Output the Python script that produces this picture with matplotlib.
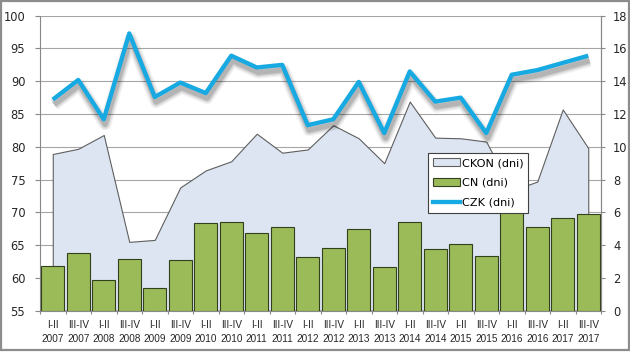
import matplotlib
matplotlib.use("Agg")
import matplotlib.pyplot as plt
import matplotlib.patheffects as pe
from matplotlib.patches import Rectangle, Patch
from matplotlib.lines import Line2D
import numpy as np

periods = ["I-II", "III-IV"] * 11
years = [str(y) for y in range(2007, 2018) for _ in range(2)]

ckon = [78.9, 79.7, 81.8, 65.5, 65.8, 73.8, 76.4, 77.8, 82.0, 79.1, 79.6,
        83.3, 81.3, 77.5, 86.9, 81.4, 81.3, 80.8, 73.3, 74.7, 85.7, 79.8]
cn = [2.75, 3.50, 1.87, 3.14, 1.37, 3.09, 5.33, 5.43, 4.72, 5.09, 3.26,
      3.83, 5.00, 2.68, 5.39, 3.75, 4.05, 3.34, 6.40, 5.09, 5.64, 5.88]
czk = [87.2, 90.2, 84.2, 97.3, 87.6, 89.8, 88.2, 93.9, 92.1, 92.5, 83.3,
       84.2, 89.9, 82.1, 91.5, 86.9, 87.5, 82.1, 91.0, 91.7, 92.8, 93.9]

labels = [f"{p}\n{y}" for p, y in zip(periods, years)]

AREA_C = "#DCE5F1"
AREA_E = "#5F5F5F"
BAR_C = "#9BBB59"
BAR_E = "#33401C"
LINE_C = "#17A9E1"
GRID_C = "#A6A6A6"
SPINE_C = "#888888"

fig = plt.figure(figsize=(6.3, 3.55), dpi=100)
fig.patch.set_facecolor("white")
W, H = 630, 355
ax = fig.add_axes([40 / W, 44.3 / H, 561 / W, 295 / H])
ax_bar = ax.twinx()
ax_line = ax.twinx()

x = np.arange(len(labels))

# area (left axis)
ax.fill_between(x, ckon, 55, facecolor=AREA_C, edgecolor=AREA_E, linewidth=0.8, zorder=1)
ax.set_ylim(55, 100)
ax.set_xlim(-0.5, len(labels) - 0.5)
ax.set_yticks(np.arange(55, 101, 5))
ax.grid(axis="y", color=GRID_C, linewidth=0.8)
ax.set_axisbelow(True)
ax.tick_params(axis="y", direction="out", length=3.6, width=0.8, color=SPINE_C,
               pad=7.0, labelsize=8.3, labelcolor="#262626")
ax.set_xticks(x)
ax.set_xticklabels(labels, fontsize=7.2, family=["Liberation Sans", "DejaVu Sans"],
                   color="#262626", linespacing=1.42)
ax.set_xticks(np.arange(-0.5, len(labels), 1), minor=True)
ax.tick_params(axis="x", which="major", length=0, pad=7.0)
ax.tick_params(axis="x", which="minor", length=2.4, width=0.8, color=SPINE_C, direction="out")
for s in ["left", "bottom", "right", "top"]:
    ax.spines[s].set_color(SPINE_C)
    ax.spines[s].set_linewidth(0.8)
ax.spines["top"].set_visible(False)

# bars (right axis)
ax_bar.bar(x, cn, width=0.91, color=BAR_C, edgecolor=BAR_E, linewidth=0.8, zorder=2)
ax_bar.set_ylim(0, 18)
ax_bar.set_yticks(np.arange(0, 19, 2))
ax_bar.tick_params(axis="y", direction="out", length=2.9, width=0.8, color=SPINE_C,
                   pad=5.8, labelsize=8.3, labelcolor="#262626")
for s in ["left", "bottom", "top"]:
    ax_bar.spines[s].set_visible(False)
ax_bar.spines["right"].set_color(SPINE_C)
ax_bar.spines["right"].set_linewidth(0.8)

# line (left scale)
ax_line.set_ylim(55, 100)
ax_line.set_yticks([])
for s in ax_line.spines.values():
    s.set_visible(False)
shadow = [pe.SimpleLineShadow(offset=(1.0, -3.6), shadow_color="black", alpha=a, linewidth=lw)
          for lw, a in [(9, 0.05), (7, 0.07), (5, 0.10), (3.5, 0.10)]]
ax_line.plot(x, czk, color=LINE_C, linewidth=3.1, solid_capstyle="butt",
             path_effects=shadow + [pe.Normal()], zorder=3)

# legend
handles = [Patch(facecolor=AREA_C, edgecolor=AREA_E, linewidth=0.8),
           Patch(facecolor=BAR_C, edgecolor=BAR_E, linewidth=0.8),
           Line2D([0], [0], color=LINE_C, linewidth=3.1)]
leg = fig.legend(handles, ["CKON (dni)", "CN (dni)", "CZK (dni)"],
                 loc="upper left", bbox_to_anchor=(428.3 / W, 1 - 153.3 / H),
                 bbox_transform=fig.transFigure, borderaxespad=0, fontsize=8.1,
                 frameon=True, fancybox=False, framealpha=1, edgecolor="#404040",
                 handlelength=2.4, handleheight=0.6, handletextpad=0.15,
                 borderpad=0.42, labelspacing=0.88)
leg.get_frame().set_linewidth(0.8)

# chart border
fig.patches.append(Rectangle((0.8 / W, 5 / H), (W - 1.8) / W, 349 / H, transform=fig.transFigure,
                             fill=False, edgecolor="#8C8C8C", linewidth=1.6))

fig.savefig("out.png", dpi=100, facecolor="white")
